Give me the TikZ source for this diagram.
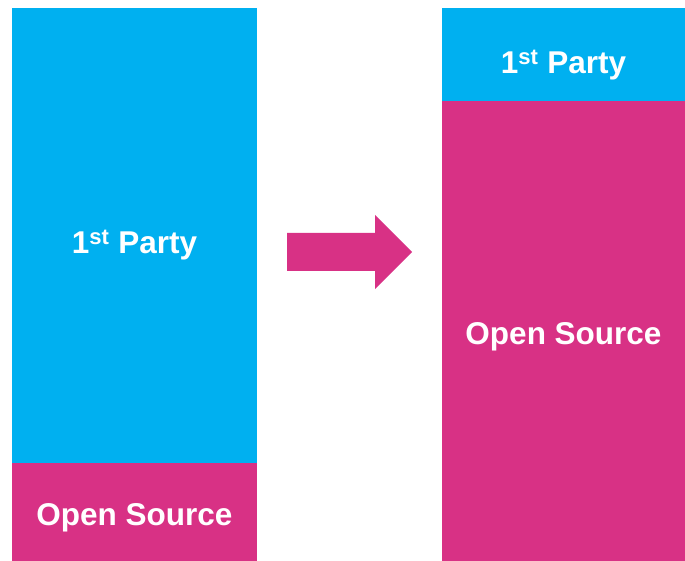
\documentclass[tikz,border=0pt]{standalone}
\usepackage{fontspec}
\setmainfont{Liberation Sans}
\usepackage{tikz}
\usetikzlibrary{positioning}
\definecolor{partyblue}{HTML}{00B0F0}
\definecolor{ospink}{HTML}{D83185}
\tikzset{
	lbl/.style={text=white,font=\bfseries\fontsize{31.5}{36}\selectfont}
}

\begin{document}
\begin{tikzpicture}[x=1pt,y=-1pt]
	\useasboundingbox (0,0) rectangle (685,561);
	% before
	\fill[partyblue] (12,8) rectangle (257,463);
	\fill[ospink] (12,463) rectangle (257,561);
	\node[lbl] (oldparty) at (134.5,245) {1\textsuperscript{st} Party};
	\node[lbl] (oldos) at (134.5,518) {Open Source};
	% arrow
	\fill[ospink] (287,233) -- (375,233) -- (375,215) -- (412,252)
	-- (375,289) -- (375,271) -- (287,271) -- cycle;
	% after
	\fill[partyblue] (442,8) rectangle (685,101);
	\fill[ospink] (442,101) rectangle (685,561);
	\node[lbl] (newparty) at (563.5,65) {1\textsuperscript{st} Party};
	\node[lbl] (newos) at (563.5,337) {Open Source};
\end{tikzpicture}
\end{document}
